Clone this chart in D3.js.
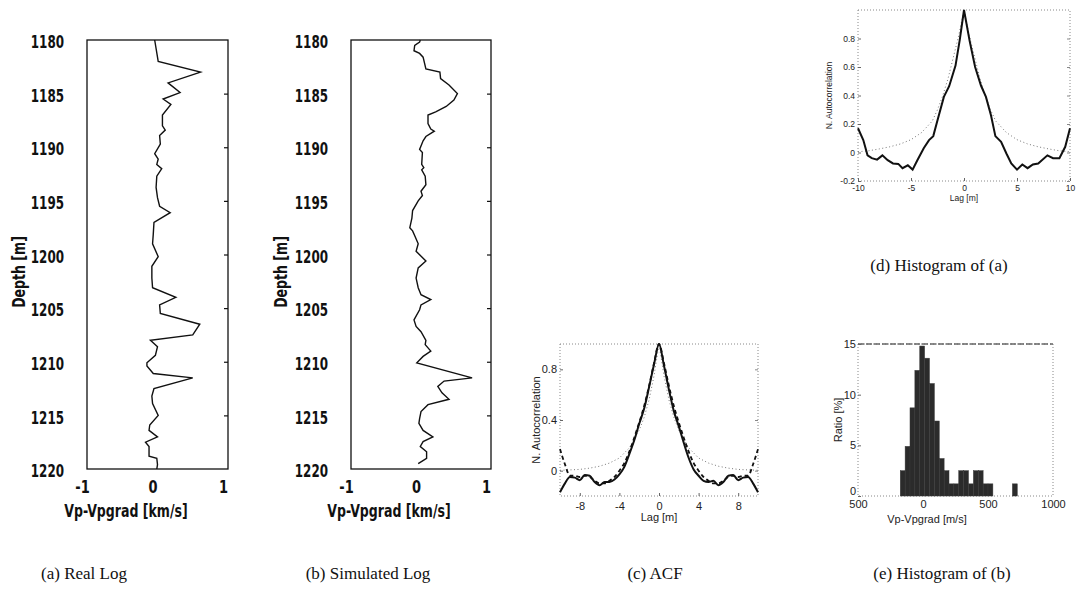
<!DOCTYPE html>
<html>
<head>
<meta charset="utf-8">
<script src="https://cdn.jsdelivr.net/npm/d3@7"></script>
<style>
  body { margin: 0; background: #fff; }
</style>
</head>
<body>
<div id="chart"></div>
<script>
// ---- data ----
let depthTicks = [1180, 1185, 1190, 1195, 1200, 1205, 1210, 1215, 1220];
let velTicks = [-1, 0, 1];

// (a) real log
let depthA = [1180, 1182, 1183, 1184, 1184.9, 1185.5, 1186, 1187, 1188, 1188.4,
    1188.9, 1189.7, 1190.6, 1191.1, 1191.6, 1192, 1192.7, 1193.75, 1194.7, 1195.5,
    1196.1, 1197, 1198.1, 1199, 1200.2, 1201.1, 1202.2, 1203.1, 1204.0, 1204.7,
    1205.5, 1206.5, 1207.5, 1208.0, 1208.6, 1209.4, 1210.1, 1210.4, 1211.1, 1211.5,
    1212.5, 1213.2, 1213.9, 1215, 1215.9, 1216.4, 1217, 1217.5, 1217.9, 1218.8,
    1219, 1219.6, 1220];
let velA = [-0.04, 0.01, 0.61, 0.15, 0.32, 0.08, 0.19, 0.07, 0.07, 0.11,
    0.03, 0.04, -0.04, 0.01, -0.01, 0.06, -0.01, -0.02, 0, 0.03,
    0.18, -0.05, -0.06, -0.07, 0.01, -0.08, -0.08, -0.07, 0.26, 0.03,
    0.04, 0.6, 0.5, -0.1, 0.0, -0.03, -0.15, -0.15, -0.06, 0.5,
    -0.05, -0.08, -0.07, 0.01, -0.11, -0.12, 0.0, -0.17, -0.12, -0.12,
    -0.01, 0, -0.01];

// (b) simulated log
let depthB = [1180, 1180.2, 1180.5, 1181, 1181.25, 1181.6, 1182.7, 1183, 1183.6, 1184.2,
    1185, 1185.6, 1186.2, 1186.7, 1187, 1187.8, 1188.3, 1188.5, 1189, 1189.4,
    1190.2, 1190.5, 1191.6, 1191.9, 1192.1, 1192.7, 1193.5, 1194.1, 1194.5, 1195,
    1195.9, 1196.6, 1197.5, 1197.8, 1198.4, 1199, 1199.7, 1200.6, 1201.25, 1202.2,
    1203.1, 1203.75, 1204.2, 1204.7, 1205.15, 1206.1, 1206.7, 1207.2, 1208, 1208.4,
    1209, 1209.5, 1210.1, 1211.5, 1211.8, 1212.3, 1212.9, 1213.5, 1214,
    1214.65, 1215.3, 1215.75, 1216.4, 1217, 1217.45, 1217.9, 1218.4, 1219, 1219.5];
let velB = [-0.01, -0.02, -0.09, -0.1, -0.02, 0.03, 0.07, 0.27, 0.28, 0.4,
    0.52, 0.47, 0.36, 0.21, 0.1, 0.1, 0.14, 0.19, 0.07, 0.03,
    -0.02, 0.02, 0.01, 0.04, 0.01, 0.06, 0.07, 0, 0.02, -0.04,
    -0.12, -0.13, -0.16, -0.12, -0.08, -0.04, -0.07, 0.07, -0.04, -0.07,
    -0.04, 0, 0.14, 0, -0.02, -0.1, -0.07, 0, 0.07, 0.06,
    0.14, 0.03, -0.06, 0.73, 0.33, 0.24, 0.3, 0.4, 0.1,
    0, -0.02, -0.03, 0.03, 0.17, 0.03, -0.01, 0.08, 0.08, -0.04];

// (c) ACF: real (solid), simulated (dashed), model (dotted)
let lagC = [-10, -9.5, -9, -8.5, -8, -7.5, -7, -6.5, -6, -5.5, -5, -4.5, -4, -3.5, -3, -2.5, -2, -1.5, -1, -0.5,
    0, 0.5, 1, 1.5, 2, 2.5, 3, 3.5, 4, 4.5, 5, 5.5, 6, 6.5, 7, 7.5, 8, 8.5, 9, 9.5, 10];
let acfRealC = [-0.17, -0.10, -0.05, -0.055, -0.075, -0.035, -0.04, -0.09, -0.115, -0.09, -0.09, -0.07, -0.03, 0.03, 0.13, 0.24, 0.37, 0.49, 0.66, 0.84,
    1.0, 0.83, 0.64, 0.47, 0.35, 0.22, 0.10, 0.01, -0.04, -0.08, -0.09, -0.08, -0.115, -0.09, -0.04, -0.035, -0.075, -0.055, -0.05, -0.10, -0.17];
let acfSimC = [0.17, 0.05, -0.04, -0.04, -0.05, -0.04, -0.05, -0.08, -0.10, -0.10, -0.08, -0.05, 0.0, 0.06, 0.15, 0.26, 0.38, 0.51, 0.67, 0.85,
    1.0, 0.85, 0.67, 0.51, 0.38, 0.26, 0.15, 0.06, 0.0, -0.05, -0.08, -0.10, -0.10, -0.08, -0.05, -0.04, -0.05, -0.04, -0.04, 0.05, 0.17];
let lagModelC = [-10, -9, -8, -7, -6, -5, -4, -3, -2, -1.5, -1, -0.5, 0, 0.5, 1, 1.5, 2, 3, 4, 5, 6, 7, 8, 9, 10];
let acfModelC = [0.003, 0.006, 0.01, 0.02, 0.035, 0.06, 0.10, 0.18, 0.32, 0.42, 0.56, 0.75, 1.0, 0.75, 0.56, 0.42, 0.32, 0.18, 0.10, 0.06, 0.035, 0.02, 0.01, 0.006, 0.003];

// (d) ACF of the real log
let lagD = [-10, -9.5, -9.1, -8.7, -8.2, -7.7, -7.2, -6.7, -6.2, -5.8, -5.3, -4.85, -4.4, -3.8, -3.3, -2.9, -2.5, -1.9, -1.4, -0.8, -0.4,
    0, 0.54, 1.05, 1.6, 2.07, 2.55, 2.96, 3.5, 4.0, 4.46, 5.0, 5.5, 6.0, 6.5, 7.0, 7.87, 8.4, 9.0, 9.55, 10];
let acfD = [0.17, 0.087, -0.02, -0.04, -0.05, -0.02, -0.054, -0.077, -0.08, -0.11, -0.09, -0.12, -0.054, 0.03, 0.087, 0.115, 0.227, 0.39, 0.465, 0.61, 0.79,
    1.0, 0.78, 0.6, 0.47, 0.39, 0.26, 0.115, 0.075, -0.007, -0.077, -0.12, -0.084, -0.11, -0.084, -0.077, -0.02, -0.04, -0.04, 0.04, 0.17];
let lagModelD = [-10, -9, -8, -7, -6, -5, -4, -3, -2.5, -2, -1.5, -1, -0.5, 0, 0.5, 1, 1.5, 2, 2.5, 3, 4, 5, 6, 7, 8, 9, 10];
let acfModelD = [0.005, 0.012, 0.025, 0.04, 0.06, 0.09, 0.14, 0.22, 0.30, 0.40, 0.52, 0.67, 0.82, 1.0, 0.82, 0.67, 0.52, 0.40, 0.30, 0.22, 0.14, 0.09, 0.06, 0.04, 0.025, 0.012, 0.005];

// (e) histogram of the simulated log (bin edges in m/s, ratio in %)
let binLo = [-175, -137.5, -100, -62.5, -25, 12.5, 50, 87.5, 125, 162.5, 200, 237.5, 275, 312.5, 350, 387.5, 425, 462.5, 500, 687.5];
let binHi = [-137.5, -100, -62.5, -25, 12.5, 50, 87.5, 125, 162.5, 200, 237.5, 275, 312.5, 350, 387.5, 425, 462.5, 500, 537.5, 725];
let ratio = [2.5, 4.9, 8.7, 12.4, 14.8, 13.6, 11.1, 7.4, 3.7, 2.5, 1.2, 1.2, 2.5, 2.5, 1.2, 2.5, 2.5, 1.2, 1.2, 1.2];

let captions = ["(a) Real Log", "(b) Simulated Log", "(c) ACF", "(d) Histogram of (a)", "(e) Histogram of (b)"];

// ---- drawing ----
let gothic = "'DejaVu Sans Condensed','DejaVu Sans',sans-serif";
let helv = "'Liberation Sans',Arial,sans-serif";
let serif = "'Liberation Serif','DejaVu Serif',serif";

let svg = d3.select("#chart").append("svg")
    .attr("width", 1076)
    .attr("height", 596);

// the log panels use a narrow gothic face: squeeze the text horizontally
function squeeze(sel, k) {
    sel.each(function() {
        let len = this.getComputedTextLength();
        d3.select(this).attr("textLength", len * k).attr("lengthAdjust", "spacingAndGlyphs");
    });
}

function drawLog(left, right, depth, vel, titleX, depthLabelX) {
    let x = d3.scaleLinear().domain([-1, 1]).range([left, right]);
    let y = d3.scaleLinear().domain([1180, 1220]).range([40, 469]);
    let g = svg.append("g");

    g.append("path")
        .datum(d3.zip(depth, vel))
        .attr("d", d3.line().x(d => x(d[1])).y(d => y(d[0])))
        .attr("fill", "none")
        .attr("stroke", "#111")
        .attr("stroke-width", 1.4);

    // frame
    g.append("rect")
        .attr("x", left).attr("y", y(1180))
        .attr("width", right - left).attr("height", y(1220) - y(1180))
        .attr("fill", "none").attr("stroke", "#111").attr("stroke-width", 1.3);

    // depth labels on the left
    let yl = g.append("g")
        .attr("transform", `translate(${left},0)`)
        .call(d3.axisLeft(y).tickValues(depthTicks).tickSize(0).tickPadding(23).tickFormat(d => String(d)));
    yl.select(".domain").remove();
    yl.selectAll("text").attr("font-family", gothic).attr("font-size", 17).attr("font-weight", "bold")
        .attr("dy", "0.45em").attr("fill", "#111")
        .call(squeeze, 0.78);

    // little inward ticks on the right side
    let yr = g.append("g")
        .attr("transform", `translate(${right},0)`)
        .call(d3.axisRight(y).tickValues(depthTicks.slice(1, -1)).tickSize(-4).tickFormat(""));
    yr.select(".domain").remove();
    yr.selectAll("line").attr("stroke", "#111").attr("stroke-width", 1.2);

    let xl = g.append("g")
        .attr("transform", `translate(-5,${y(1220)})`)
        .call(d3.axisBottom(x).tickValues(velTicks).tickSize(0).tickPadding(12).tickFormat(d => String(d)));
    xl.select(".domain").remove();
    xl.selectAll("text").attr("font-family", gothic).attr("font-size", 17).attr("font-weight", "bold").attr("fill", "#111")
        .call(squeeze, 0.85);

    g.append("text")
        .attr("x", titleX).attr("y", 517)
        .attr("text-anchor", "middle")
        .attr("font-family", gothic).attr("font-size", 17).attr("font-weight", "bold").attr("fill", "#111")
        .text("Vp-Vpgrad [km/s]")
        .call(squeeze, 0.82);

    g.append("text")
        .attr("transform", `translate(${depthLabelX},272) rotate(-90)`)
        .attr("text-anchor", "middle")
        .attr("font-family", gothic).attr("font-size", 17).attr("font-weight", "bold").attr("fill", "#111")
        .text("Depth [m]")
        .call(squeeze, 0.82);
}

function dottedFrame(g, x0, y0, x1, y1) {
    g.append("rect")
        .attr("x", x0).attr("y", y0)
        .attr("width", x1 - x0).attr("height", y1 - y0)
        .attr("fill", "none")
        .attr("stroke", "#888")
        .attr("stroke-width", 1)
        .attr("stroke-dasharray", "1,2");
}

function drawAcf(opt) {
    let x = d3.scaleLinear().domain([-10, 10]).range([opt.left, opt.right]);
    let y = d3.scaleLinear().domain([-0.2, 1]).range([opt.bottom, opt.top]);
    let g = svg.append("g");
    dottedFrame(g, opt.left, opt.top, opt.right, opt.bottom);

    let line = d3.line().x(d => x(d[0])).y(d => y(d[1]));

    g.append("path")
        .datum(d3.zip(opt.lagModel, opt.model))
        .attr("d", line)
        .attr("fill", "none").attr("stroke", "#777").attr("stroke-width", 1)
        .attr("stroke-dasharray", "1,2.5");

    if (opt.sim) {
        g.append("path")
            .datum(d3.zip(opt.lag, opt.sim))
            .attr("d", line.curve(d3.curveMonotoneX))
            .attr("fill", "none").attr("stroke", "#111").attr("stroke-width", 1.8)
            .attr("stroke-dasharray", "4,3");
    }

    g.append("path")
        .datum(d3.zip(opt.lag, opt.real))
        .attr("d", d3.line().x(d => x(d[0])).y(d => y(d[1])).curve(opt.smooth ? d3.curveMonotoneX : d3.curveLinear))
        .attr("fill", "none").attr("stroke", "#111").attr("stroke-width", opt.width);

    let ya = g.append("g")
        .attr("transform", `translate(${opt.left},0)`)
        .call(d3.axisLeft(y).tickValues(opt.yTicks).tickSize(-3).tickPadding(3).tickFormat(d => d === 0 ? "0" : String(d.toFixed(1))));
    ya.select(".domain").remove();
    ya.selectAll("line").attr("stroke", "#666");
    ya.selectAll("text").attr("font-family", helv).attr("font-size", opt.fs).attr("fill", "#222");

    let yr = g.append("g")
        .attr("transform", `translate(${opt.right},0)`)
        .call(d3.axisRight(y).tickValues(opt.yTicks).tickSize(-3).tickFormat(""));
    yr.select(".domain").remove();
    yr.selectAll("line").attr("stroke", "#888");

    let xa = g.append("g")
        .attr("transform", `translate(0,${opt.bottom})`)
        .call(d3.axisBottom(x).tickValues(opt.xTicks).tickSize(-3).tickPadding(opt.xPad).tickFormat(d => String(d)));
    xa.select(".domain").remove();
    xa.selectAll("line").attr("stroke", "#666");
    xa.selectAll("text").attr("font-family", helv).attr("font-size", opt.fs).attr("fill", "#222");

    g.append("text")
        .attr("x", x(0)).attr("y", opt.lagY)
        .attr("text-anchor", "middle")
        .attr("font-family", helv).attr("font-size", opt.fs).attr("fill", "#222")
        .text("Lag [m]");

    g.append("text")
        .attr("transform", `translate(${opt.ylabX},${(opt.top + opt.bottom) / 2}) rotate(-90)`)
        .attr("text-anchor", "middle")
        .attr("font-family", helv).attr("font-size", opt.fs).attr("fill", "#222")
        .text("N. Autocorrelation");
}

function drawHist() {
    let left = 858, right = 1053, top = 344, bottom = 496;
    let x = d3.scaleLinear().domain([-500, 1000]).range([left, right]);
    let y = d3.scaleLinear().domain([0, 15]).range([bottom, top]);
    let g = svg.append("g");
    dottedFrame(g, left, top, right, bottom);
    g.append("line")
        .attr("x1", left).attr("x2", right).attr("y1", top).attr("y2", top)
        .attr("stroke", "#666").attr("stroke-width", 1.5).attr("stroke-dasharray", "6,2");

    g.selectAll(".bar")
        .data(ratio)
        .enter()
        .append("rect")
        .attr("class", "bar")
        .attr("x", (d, i) => x(binLo[i]))
        .attr("width", (d, i) => x(binHi[i]) - x(binLo[i]))
        .attr("y", d => y(d))
        .attr("height", d => bottom - y(d))
        .attr("fill", "#2b2b2b")
        .attr("stroke", "#3a3a3a")
        .attr("stroke-width", 0.5);

    let ya = g.append("g")
        .attr("transform", `translate(${left},0)`)
        .call(d3.axisLeft(y).tickValues([0, 5, 10, 15]).tickSize(-3).tickPadding(2));
    ya.select(".domain").remove();
    ya.selectAll("line").attr("stroke", "#666");
    ya.selectAll("text").attr("font-family", helv).attr("font-size", 11).attr("fill", "#222")
        .attr("dy", d => d === 0 ? "-0.1em" : "0.32em");

    // the scanned figure prints the -500 tick without its minus sign
    let xa = g.append("g")
        .attr("transform", `translate(0,${bottom})`)
        .call(d3.axisBottom(x).tickValues([-500, 0, 500, 1000]).tickSize(0).tickPadding(4).tickFormat(d => String(Math.abs(d))));
    xa.select(".domain").remove();
    xa.selectAll("text").attr("font-family", helv).attr("font-size", 11).attr("fill", "#222");

    g.append("text")
        .attr("x", 927).attr("y", 523)
        .attr("text-anchor", "middle")
        .attr("font-family", helv).attr("font-size", 11).attr("fill", "#222")
        .text("Vp-Vpgrad [m/s]");

    g.append("text")
        .attr("transform", `translate(842,${(top + bottom) / 2}) rotate(-90)`)
        .attr("text-anchor", "middle")
        .attr("font-family", helv).attr("font-size", 11).attr("fill", "#222")
        .text("Ratio [%]");
}

drawLog(87, 228, depthA, velA, 126, 25);
drawLog(351, 491, depthB, velB, 389, 287);

drawAcf({
    left: 560, right: 758, top: 344, bottom: 496,
    lag: lagC, real: acfRealC, sim: acfSimC, lagModel: lagModelC, model: acfModelC,
    yTicks: [0, 0.4, 0.8], xTicks: [-8, -4, 0, 4, 8],
    fs: 11, xPad: 6, lagY: 521, ylabX: 540, width: 2, smooth: true
});

drawAcf({
    left: 858, right: 1070, top: 10, bottom: 181,
    lag: lagD, real: acfD, sim: null, lagModel: lagModelD, model: acfModelD,
    yTicks: [-0.2, 0, 0.2, 0.4, 0.6, 0.8], xTicks: [-10, -5, 0, 5, 10],
    fs: 8.5, xPad: 4, lagY: 201, ylabX: 832, width: 2, smooth: false
});

drawHist();

// captions
let capPos = [[84, 579], [368, 579], [655, 579], [939, 271], [942, 579]];
svg.selectAll(".caption")
    .data(captions)
    .enter()
    .append("text")
    .attr("class", "caption")
    .attr("x", (d, i) => capPos[i][0])
    .attr("y", (d, i) => capPos[i][1])
    .attr("text-anchor", "middle")
    .attr("font-family", serif)
    .attr("font-size", 17)
    .attr("fill", "#111")
    .text(d => d);
</script>
</body>
</html>
